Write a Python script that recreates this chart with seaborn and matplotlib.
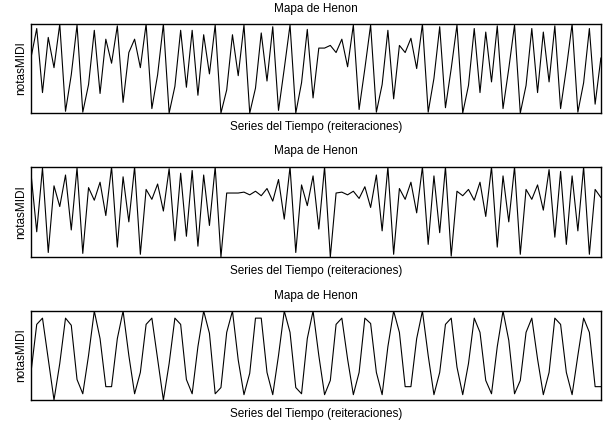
import numpy as np
import pandas as pd
import matplotlib
matplotlib.use("Agg")
import matplotlib.pyplot as plt
import seaborn as sns

# Valores (escala 0-100 entre minimo y maximo de cada serie)
henon_1 = [62, 95, 23, 85, 51, 100, 2, 43, 99, 1,
           32, 93, 22, 83, 56, 98, 12, 68, 83, 51,
           100, 5, 43, 100, 0, 30, 93, 29, 93, 20,
           88, 44, 99, 0, 26, 88, 42, 99, 0, 28,
           90, 36, 97, 3, 50, 99, 0, 34, 94, 17,
           73, 73, 76, 68, 83, 52, 99, 4, 50, 99,
           1, 32, 93, 16, 76, 68, 84, 50, 100, 1,
           39, 97, 6, 50, 99, 0, 31, 95, 23, 91,
           35, 98, 5, 50, 99, 0, 31, 95, 23, 91,
           35, 98, 5, 50, 100, 1, 34, 95, 10, 62]

henon_2 = [93, 28, 99, 5, 79, 56, 91, 30, 99, 4,
           77, 63, 83, 46, 100, 11, 89, 39, 100, 3,
           75, 64, 81, 51, 98, 18, 93, 23, 96, 12,
           91, 35, 100, 0, 71, 71, 71, 72, 69, 73,
           68, 76, 62, 86, 42, 100, 5, 80, 57, 90,
           31, 100, 0, 71, 72, 69, 73, 65, 78, 55,
           91, 29, 100, 3, 76, 64, 83, 49, 100, 14,
           90, 27, 100, 1, 73, 68, 75, 63, 83, 45,
           100, 11, 90, 39, 100, 3, 75, 64, 80, 52,
           97, 22, 95, 14, 90, 29, 100, 3, 75, 66]

henon_3 = [31, 85, 92, 46, 0, 41, 92, 84, 23, 7,
           50, 100, 69, 15, 15, 69, 100, 50, 7, 31,
           85, 92, 46, 0, 41, 92, 85, 23, 7, 60,
           100, 75, 7, 14, 76, 100, 45, 6, 30, 92,
           92, 31, 6, 50, 100, 76, 14, 7, 69, 100,
           50, 6, 22, 85, 92, 46, 6, 31, 92, 86,
           31, 6, 60, 100, 76, 15, 15, 69, 100, 50,
           6, 31, 85, 92, 37, 6, 41, 92, 76, 22,
           7, 60, 100, 67, 7, 22, 76, 92, 46, 6,
           31, 92, 85, 31, 6, 50, 92, 76, 15, 15]

series = [henon_1, henon_2, henon_3]
titulo = "Mapa de Henon"
etiqueta_x = "Series del Tiempo (reiteraciones)"
etiqueta_y = "notasMIDI"

sns.set_theme(style="white")
plt.rcParams['font.family'] = ['Liberation Sans', 'DejaVu Sans']
plt.rcParams['text.color'] = 'black'
plt.rcParams['axes.labelcolor'] = 'black'

fig = plt.figure(figsize=(6.05, 4.25), dpi=100)
# posiciones de los ejes [izq, abajo, ancho, alto]
posiciones = [[0.0512, 0.734, 0.942, 0.2094],
              [0.0512, 0.3953, 0.942, 0.212],
              [0.0512, 0.0588, 0.942, 0.2094]]

for valores, pos in zip(series, posiciones):
    ax = fig.add_axes(pos)
    df = pd.DataFrame({'iter': np.arange(len(valores)), 'nota': valores})
    sns.lineplot(data=df, x='iter', y='nota', ax=ax, color='black', linewidth=0.8)
    ax.set_xlim(df['iter'].min(), df['iter'].max())
    ax.set_ylim(df['nota'].min(), df['nota'].max())
    ax.set_xticks([])
    ax.set_yticks([])
    ax.set_title(titulo, fontsize=8.5, pad=9, color='black')
    ax.set_xlabel(etiqueta_x, fontsize=8.5, labelpad=5.5)
    ax.set_ylabel(etiqueta_y, fontsize=8.5, labelpad=3)
    for spine in ax.spines.values():
        spine.set_visible(True)
        spine.set_color('black')
        spine.set_linewidth(1.0)

fig.savefig("out.png", dpi=100)
